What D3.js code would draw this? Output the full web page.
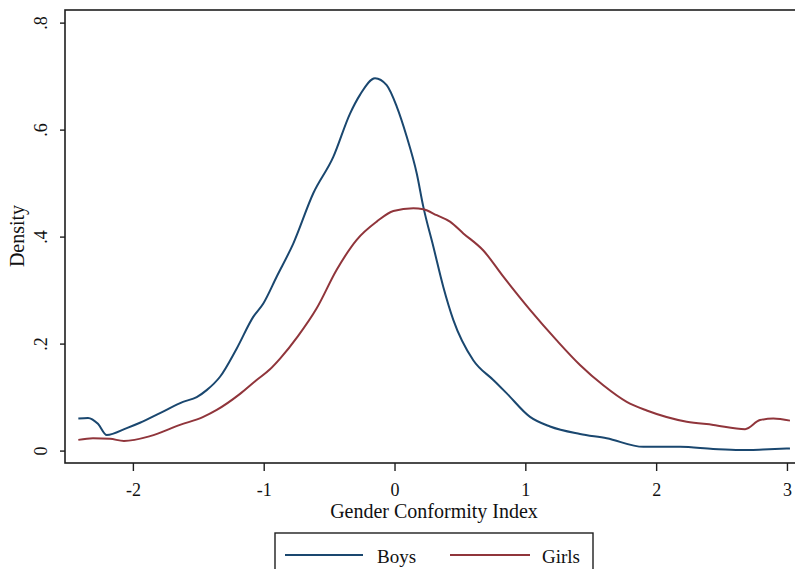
<!DOCTYPE html>
<html lang="en">
<head>
<meta charset="UTF-8">
<title>Gender Conformity Index density</title>
<style>
    body { margin: 0; background: #fff; }
    svg { display: block; }
    svg text { font-family: "Liberation Serif", "DejaVu Serif", serif; fill: #111; }
</style>
</head>
<body>
<svg id="chart"></svg>
<script src="https://cdnjs.cloudflare.com/ajax/libs/d3/7.9.0/d3.min.js"></script>
<script>
// kernel density estimates
const boysX = [-2.417, -2.343, -2.267, -2.200, -2.047, -1.946, -1.793, -1.617, -1.512, -1.436,
    -1.334, -1.206, -1.080, -1.003, -0.901, -0.774, -0.621, -0.468, -0.340, -0.264,
    -0.149, -0.060, 0.017, 0.093, 0.170, 0.220, 0.297, 0.373, 0.450, 0.602,
    0.755, 0.858, 1.036, 1.189, 1.418, 1.622, 1.902, 2.183, 2.435, 2.641, 2.817, 3.023];
const boysY = [0.060, 0.061, 0.050, 0.029, 0.042, 0.052, 0.070, 0.091, 0.100, 0.113,
    0.138, 0.191, 0.250, 0.275, 0.325, 0.387, 0.481, 0.549, 0.630, 0.665,
    0.696, 0.683, 0.643, 0.587, 0.518, 0.456, 0.381, 0.306, 0.244, 0.169,
    0.132, 0.107, 0.063, 0.045, 0.031, 0.023, 0.007, 0.007, 0.003, 0.001, 0.002, 0.004];

const girlsX = [-2.417, -2.305, -2.175, -2.068, -1.869, -1.640, -1.462, -1.359, -1.181, -1.054,
    -0.952, -0.875, -0.738, -0.595, -0.442, -0.289, -0.136, -0.009, 0.144, 0.220,
    0.323, 0.424, 0.526, 0.679, 0.832, 1.036, 1.240, 1.418, 1.596, 1.775,
    1.928, 2.234, 2.437, 2.680, 2.794, 2.896, 3.023];
const girlsY = [0.020, 0.023, 0.022, 0.018, 0.027, 0.048, 0.063, 0.076, 0.106, 0.132,
    0.152, 0.172, 0.214, 0.266, 0.338, 0.394, 0.428, 0.448, 0.453, 0.451,
    0.440, 0.428, 0.406, 0.374, 0.325, 0.263, 0.206, 0.160, 0.122, 0.091,
    0.075, 0.054, 0.048, 0.040, 0.057, 0.060, 0.056];

const xTicks = [-2, -1, 0, 1, 2, 3];
const yTicks = [0, 0.2, 0.4, 0.6, 0.8];
const yTickLabels = ["0", ".2", ".4", ".6", ".8"];

const seriesNames = ["Boys", "Girls"];
const seriesColors = ["#1a476f", "#90353b"];

const serif = '"Liberation Serif", "DejaVu Serif", serif';
const w = 795, h = 569;
const plot = { left: 65, top: 10, right: 802, bottom: 463 };

const svg = d3.select("#chart").attr("width", w).attr("height", h);

const xScale = d3.scaleLinear().domain([-2.519, 3.115]).range([plot.left, plot.right]);
const yScale = d3.scaleLinear().domain([-0.0232, 0.8236]).range([plot.bottom, plot.top]);

// plot frame
svg.append("rect")
    .attr("x", plot.left).attr("y", plot.top)
    .attr("width", plot.right - plot.left).attr("height", plot.bottom - plot.top)
    .attr("fill", "none").attr("stroke", "#1e1e1e").attr("stroke-width", 1.6);

// axes
const xAxis = d3.axisBottom(xScale).tickValues(xTicks).tickSize(8).tickPadding(0)
    .tickFormat(d => d < 0 ? "-" + Math.abs(d) : String(d));
const gx = svg.append("g")
    .attr("transform", "translate(0," + plot.bottom + ")")
    .call(xAxis);
gx.attr("font-family", null).attr("font-size", null);
gx.select(".domain").remove();
gx.selectAll("line").attr("stroke", "#1e1e1e").attr("stroke-width", 1.4);
gx.selectAll("text")
    .style("font-family", serif).style("font-size", "18px")
    .attr("dy", null).attr("y", 33);

const yAxis = d3.axisLeft(yScale).tickValues(yTicks).tickSize(5)
    .tickFormat((d, i) => yTickLabels[i]);
const gy = svg.append("g")
    .attr("transform", "translate(" + plot.left + ",0)")
    .call(yAxis);
gy.attr("font-family", null).attr("font-size", null);
gy.select(".domain").remove();
gy.selectAll("line").attr("stroke", "#1e1e1e").attr("stroke-width", 1.4);
gy.selectAll("text")
    .style("font-family", serif).style("font-size", "18px")
    .attr("x", null).attr("dy", null)
    .attr("text-anchor", "middle")
    .attr("transform", "translate(-18,0) rotate(-90)");

// axis titles
svg.append("text")
    .attr("x", 434).attr("y", 518)
    .attr("text-anchor", "middle").style("font-size", "20px")
    .text("Gender Conformity Index");

svg.append("text")
    .attr("transform", "translate(24,236) rotate(-90)")
    .attr("text-anchor", "middle").style("font-size", "20px")
    .text("Density");

// density lines
const line = d3.line()
    .x(d => xScale(d[0]))
    .y(d => yScale(d[1]))
    .curve(d3.curveMonotoneX);

const series = [d3.zip(boysX, boysY), d3.zip(girlsX, girlsY)];

svg.selectAll(".density")
    .data(series)
    .enter()
    .append("path")
    .attr("class", "density")
    .attr("d", line)
    .attr("fill", "none")
    .attr("stroke", (d, i) => seriesColors[i])
    .attr("stroke-width", 2);

// legend
const legend = svg.append("g");
legend.append("rect")
    .attr("x", 275).attr("y", 533).attr("width", 318).attr("height", 60)
    .attr("fill", "#fff").attr("stroke", "#1e1e1e").attr("stroke-width", 1.4);

const legendItems = [
    { x1: 285, x2: 363, tx: 377 },
    { x1: 450, x2: 530, tx: 542 }
];
legendItems.forEach((it, i) => {
    legend.append("line")
        .attr("x1", it.x1).attr("x2", it.x2).attr("y1", 555).attr("y2", 555)
        .attr("stroke", seriesColors[i]).attr("stroke-width", 2);
    legend.append("text")
        .attr("x", it.tx).attr("y", 563)
        .style("font-size", "19px")
        .text(seriesNames[i]);
});
</script>
</body>
</html>
